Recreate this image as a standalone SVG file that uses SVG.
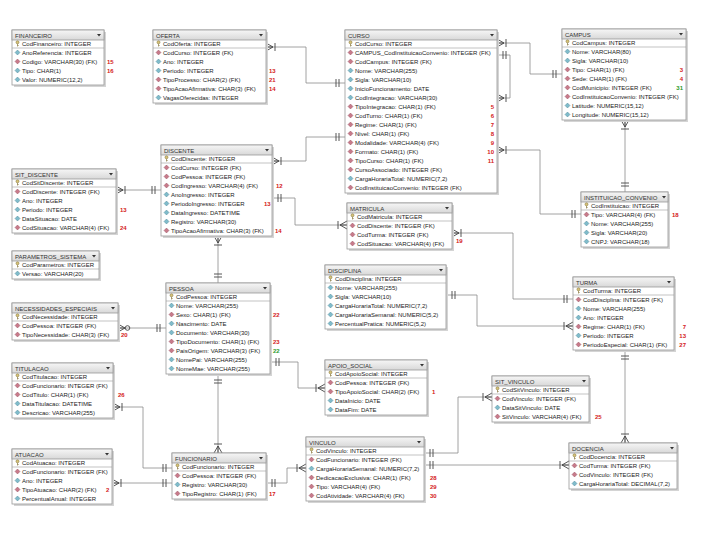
<svg xmlns="http://www.w3.org/2000/svg" width="720" height="540" viewBox="0 0 720 540">
<defs>
<style>
.sh{fill:#d4d4d4}
.t{fill:#fff;stroke:#9a9a9a;stroke-width:.8}
.h{fill:url(#hg);stroke:#9a9a9a;stroke-width:.8}
.ht{font-family:"Liberation Sans",Arial,sans-serif;font-size:6px;fill:#333}
.r{font-family:"Liberation Sans",Arial,sans-serif;font-size:6px;fill:#222}
.n{font-family:"Liberation Sans",Arial,sans-serif;font-size:6px;font-weight:bold;fill:#d42020}
.g{font-family:"Liberation Sans",Arial,sans-serif;font-size:6px;font-weight:bold;fill:#2a9a2a}
.e{text-anchor:end}
.sep{stroke:#9a9a9a;stroke-width:.6}
.dd{fill:#333}
#connectors path{fill:none;stroke:#8c8c8c;stroke-width:.8}
.mk{fill:none;stroke:#444;stroke-width:.9}
</style>
<linearGradient id="hg" x1="0" y1="0" x2="0" y2="1"><stop offset="0" stop-color="#f6f6f6"/><stop offset="1" stop-color="#d8d8d8"/></linearGradient>
<g id="pk"><circle cx="0" cy="-1.2" r="1.5" fill="#d8c47a" stroke="#8a7a40" stroke-width=".6"/><path d="M0,.3V3M0,2H1.2" stroke="#8a7a40" stroke-width=".7" fill="none"/></g>
<path id="fk" d="M0,-2.5L2.5,0 0,2.5-2.5,0Z" fill="#c87a8a" stroke="#8a4454" stroke-width=".4"/>
<path id="no" d="M0,-2.5L2.5,0 0,2.5-2.5,0Z" fill="#80bccb" stroke="#3c7a8a" stroke-width=".4"/>
<marker id="one" viewBox="-12 -6 14 12" refX="0" refY="0" markerWidth="14" markerHeight="12" markerUnits="userSpaceOnUse" orient="auto-start-reverse" overflow="visible"><path class="mk" d="M-6,-4V4M-9,-4V4"/></marker>
<marker id="many" viewBox="-12 -6 14 12" refX="0" refY="0" markerWidth="14" markerHeight="12" markerUnits="userSpaceOnUse" orient="auto-start-reverse" overflow="visible"><path class="mk" d="M0,-4L-7,0 0,4M0,0H-7M-9,-4V4"/></marker>
<marker id="zmany" viewBox="-14 -6 16 12" refX="0" refY="0" markerWidth="16" markerHeight="12" markerUnits="userSpaceOnUse" orient="auto-start-reverse" overflow="visible"><path class="mk" d="M0,-4L-7,0 0,4M0,0H-7"/><circle class="mk" cx="-9.5" cy="0" r="2.3" fill="#fff"/></marker>
</defs>
<rect width="720" height="540" fill="#fff"/>

<g id="connectors">
<path d="M266,47H306V83H345" marker-start="url(#many)" marker-end="url(#one)"/>
<path d="M272,161H306V137H345" marker-start="url(#many)" marker-end="url(#one)"/>
<path d="M272,198H295V225H347" marker-start="url(#one)" marker-end="url(#many)"/>
<path d="M116,190H161" marker-start="url(#many)" marker-end="url(#one)"/>
<path d="M218,236V283" marker-start="url(#many)" marker-end="url(#one)"/>
<path d="M497,43H530V74H562" marker-start="url(#many)" marker-end="url(#one)"/>
<path d="M497,55H510V98H497" marker-start="url(#one)" marker-end="url(#many)"/>
<path d="M497,150H540V214H581" marker-start="url(#many)" marker-end="url(#one)"/>
<path d="M625,120V192" marker-start="url(#many)" marker-end="url(#one)"/>
<path d="M452,233H513V299H573" marker-start="url(#many)" marker-end="url(#one)"/>
<path d="M446,295H477V326H573" marker-start="url(#one)" marker-end="url(#many)"/>
<path d="M625,350V443" marker-start="url(#one)" marker-end="url(#many)"/>
<path d="M118,328H166" marker-start="url(#zmany)" marker-end="url(#one)"/>
<path d="M270,362H298V388H325" marker-start="url(#one)" marker-end="url(#many)"/>
<path d="M218,374V453" marker-start="url(#one)" marker-end="url(#many)"/>
<path d="M113,407H143V468H172" marker-start="url(#many)" marker-end="url(#one)"/>
<path d="M112,483H172" marker-start="url(#many)" marker-end="url(#one)"/>
<path d="M266,483H287V468H306" marker-start="url(#one)" marker-end="url(#many)"/>
<path d="M424,453H458V397H492" marker-start="url(#one)" marker-end="url(#many)"/>
<path d="M424,465H569" marker-start="url(#one)" marker-end="url(#many)"/>
</g>

<g id="financeiro">
<rect class="sh" x="14" y="32" width="92" height="55"/><rect class="t" x="12" y="30" width="92" height="55"/><rect class="h" x="12" y="30" width="92" height="10"/>
<text class="ht" x="15" y="37.5">FINANCEIRO</text><path class="dd" d="M97,34h4l-2,2.5z"/><line class="sep" x1="12" y1="48" x2="104" y2="48"/>
<use href="#pk" x="17.5" y="43.5"/><text class="r" x="22" y="45.5">CodFinanceiro: INTEGER</text>
<use href="#no" x="17.5" y="52.5"/><text class="r" x="22" y="54.5">AnoReferencia: INTEGER</text>
<use href="#fk" x="17.5" y="61.5"/><text class="r" x="22" y="63.5">Codigo: VARCHAR(30) (FK)</text>
<use href="#no" x="17.5" y="70.5"/><text class="r" x="22" y="72.5">Tipo: CHAR(1)</text>
<use href="#no" x="17.5" y="79.5"/><text class="r" x="22" y="81.5">Valor: NUMERIC(12,2)</text>
<text class="n" x="107" y="63.5">15</text><text class="n" x="107" y="72.5">16</text>
</g>

<g id="oferta">
<rect class="sh" x="155" y="32" width="113" height="73"/><rect class="t" x="153" y="30" width="113" height="73"/><rect class="h" x="153" y="30" width="113" height="10"/>
<text class="ht" x="156" y="37.5">OFERTA</text><path class="dd" d="M259,34h4l-2,2.5z"/><line class="sep" x1="153" y1="48" x2="266" y2="48"/>
<use href="#pk" x="158.5" y="43.5"/><text class="r" x="163" y="45.5">CodOferta: INTEGER</text>
<use href="#fk" x="158.5" y="52.5"/><text class="r" x="163" y="54.5">CodCurso: INTEGER (FK)</text>
<use href="#no" x="158.5" y="61.5"/><text class="r" x="163" y="63.5">Ano: INTEGER</text>
<use href="#no" x="158.5" y="70.5"/><text class="r" x="163" y="72.5">Periodo: INTEGER</text>
<use href="#fk" x="158.5" y="79.5"/><text class="r" x="163" y="81.5">TipoProcesso: CHAR(2) (FK)</text>
<use href="#fk" x="158.5" y="88.5"/><text class="r" x="163" y="90.5">TipoAcaoAfirmativa: CHAR(3) (FK)</text>
<use href="#no" x="158.5" y="97.5"/><text class="r" x="163" y="99.5">VagasOferecidas: INTEGER</text>
<text class="n" x="269" y="72.5">13</text><text class="n" x="269" y="81.5">21</text><text class="n" x="269" y="90.5">14</text>
</g>

<g id="curso">
<rect class="sh" x="347" y="32" width="152" height="163"/><rect class="t" x="345" y="30" width="152" height="163"/><rect class="h" x="345" y="30" width="152" height="10"/>
<text class="ht" x="348" y="37.5">CURSO</text><path class="dd" d="M490,34h4l-2,2.5z"/><line class="sep" x1="345" y1="48" x2="497" y2="48"/>
<use href="#pk" x="350.5" y="43.5"/><text class="r" x="355" y="45.5">CodCurso: INTEGER</text>
<use href="#fk" x="350.5" y="52.5"/><text class="r" x="355" y="54.5">CAMPUS_CodInstituicaoConvenio: INTEGER (FK)</text>
<use href="#fk" x="350.5" y="61.5"/><text class="r" x="355" y="63.5">CodCampus: INTEGER (FK)</text>
<use href="#no" x="350.5" y="70.5"/><text class="r" x="355" y="72.5">Nome: VARCHAR(255)</text>
<use href="#no" x="350.5" y="79.5"/><text class="r" x="355" y="81.5">Sigla: VARCHAR(10)</text>
<use href="#no" x="350.5" y="88.5"/><text class="r" x="355" y="90.5">InicioFuncionamento: DATE</text>
<use href="#no" x="350.5" y="97.5"/><text class="r" x="355" y="99.5">CodIntegracao: VARCHAR(30)</text>
<use href="#fk" x="350.5" y="106.5"/><text class="r" x="355" y="108.5">TipoIntegracao: CHAR(1) (FK)</text>
<use href="#fk" x="350.5" y="115.5"/><text class="r" x="355" y="117.5">CodTurno: CHAR(1) (FK)</text>
<use href="#fk" x="350.5" y="124.5"/><text class="r" x="355" y="126.5">Regime: CHAR(1) (FK)</text>
<use href="#fk" x="350.5" y="133.5"/><text class="r" x="355" y="135.5">Nivel: CHAR(1) (FK)</text>
<use href="#fk" x="350.5" y="142.5"/><text class="r" x="355" y="144.5">Modalidade: VARCHAR(4) (FK)</text>
<use href="#fk" x="350.5" y="151.5"/><text class="r" x="355" y="153.5">Formato: CHAR(1) (FK)</text>
<use href="#fk" x="350.5" y="160.5"/><text class="r" x="355" y="162.5">TipoCurso: CHAR(1) (FK)</text>
<use href="#fk" x="350.5" y="169.5"/><text class="r" x="355" y="171.5">CursoAssociado: INTEGER (FK)</text>
<use href="#no" x="350.5" y="178.5"/><text class="r" x="355" y="180.5">CargaHorariaTotal: NUMERIC(7,2)</text>
<use href="#fk" x="350.5" y="187.5"/><text class="r" x="355" y="189.5">CodInstituicaoConvenio: INTEGER (FK)</text>
<text class="n e" x="494" y="108.5">5</text><text class="n e" x="494" y="117.5">6</text><text class="n e" x="494" y="126.5">7</text><text class="n e" x="494" y="135.5">8</text><text class="n e" x="494" y="144.5">9</text><text class="n e" x="494" y="153.5">10</text><text class="n e" x="494" y="162.5">11</text>
</g>

<g id="campus">
<rect class="sh" x="564" y="31" width="124" height="91"/><rect class="t" x="562" y="29" width="124" height="91"/><rect class="h" x="562" y="29" width="124" height="10"/>
<text class="ht" x="565" y="36.5">CAMPUS</text><path class="dd" d="M679,33h4l-2,2.5z"/><line class="sep" x1="562" y1="47" x2="686" y2="47"/>
<use href="#pk" x="567.5" y="42.5"/><text class="r" x="572" y="44.5">CodCampus: INTEGER</text>
<use href="#no" x="567.5" y="51.5"/><text class="r" x="572" y="53.5">Nome: VARCHAR(80)</text>
<use href="#no" x="567.5" y="60.5"/><text class="r" x="572" y="62.5">Sigla: VARCHAR(10)</text>
<use href="#fk" x="567.5" y="69.5"/><text class="r" x="572" y="71.5">Tipo: CHAR(1) (FK)</text>
<use href="#fk" x="567.5" y="78.5"/><text class="r" x="572" y="80.5">Sede: CHAR(1) (FK)</text>
<use href="#fk" x="567.5" y="87.5"/><text class="r" x="572" y="89.5">CodMunicipio: INTEGER (FK)</text>
<use href="#fk" x="567.5" y="96.5"/><text class="r" x="572" y="98.5">CodInstituicaoConvenio: INTEGER (FK)</text>
<use href="#no" x="567.5" y="105.5"/><text class="r" x="572" y="107.5">Latitude: NUMERIC(15,12)</text>
<use href="#no" x="567.5" y="114.5"/><text class="r" x="572" y="116.5">Longitude: NUMERIC(15,12)</text>
<text class="n e" x="683" y="71.5">3</text><text class="n e" x="683" y="80.5">4</text><text class="g e" x="683" y="89.5">31</text>
</g>

<g id="sit_discente">
<rect class="sh" x="14" y="171" width="104" height="64"/><rect class="t" x="12" y="169" width="104" height="64"/><rect class="h" x="12" y="169" width="104" height="10"/>
<text class="ht" x="15" y="176.5">SIT_DISCENTE</text><path class="dd" d="M109,173h4l-2,2.5z"/><line class="sep" x1="12" y1="187" x2="116" y2="187"/>
<use href="#pk" x="17.5" y="182.5"/><text class="r" x="22" y="184.5">CodSitDiscente: INTEGER</text>
<use href="#fk" x="17.5" y="191.5"/><text class="r" x="22" y="193.5">CodDiscente: INTEGER (FK)</text>
<use href="#no" x="17.5" y="200.5"/><text class="r" x="22" y="202.5">Ano: INTEGER</text>
<use href="#no" x="17.5" y="209.5"/><text class="r" x="22" y="211.5">Periodo: INTEGER</text>
<use href="#no" x="17.5" y="218.5"/><text class="r" x="22" y="220.5">DataSituacao: DATE</text>
<use href="#fk" x="17.5" y="227.5"/><text class="r" x="22" y="229.5">CodSituacao: VARCHAR(4) (FK)</text>
<text class="n" x="120" y="211.5">13</text><text class="n" x="120" y="229.5">24</text>
</g>

<g id="parametros_sistema">
<rect class="sh" x="14" y="253" width="87" height="28"/><rect class="t" x="12" y="251" width="87" height="28"/><rect class="h" x="12" y="251" width="87" height="10"/>
<text class="ht" x="15" y="258.5">PARAMETROS_SISTEMA</text><path class="dd" d="M92,255h4l-2,2.5z"/><line class="sep" x1="12" y1="269" x2="99" y2="269"/>
<use href="#pk" x="17.5" y="264.5"/><text class="r" x="22" y="266.5">CodParametros: INTEGER</text>
<use href="#no" x="17.5" y="273.5"/><text class="r" x="22" y="275.5">Versao: VARCHAR(20)</text>
</g>

<g id="discente">
<rect class="sh" x="163" y="147" width="111" height="91"/><rect class="t" x="161" y="145" width="111" height="91"/><rect class="h" x="161" y="145" width="111" height="10"/>
<text class="ht" x="164" y="152.5">DISCENTE</text><path class="dd" d="M265,149h4l-2,2.5z"/><line class="sep" x1="161" y1="163" x2="272" y2="163"/>
<use href="#pk" x="166.5" y="158.5"/><text class="r" x="171" y="160.5">CodDiscente: INTEGER</text>
<use href="#fk" x="166.5" y="167.5"/><text class="r" x="171" y="169.5">CodCurso: INTEGER (FK)</text>
<use href="#fk" x="166.5" y="176.5"/><text class="r" x="171" y="178.5">CodPessoa: INTEGER (FK)</text>
<use href="#fk" x="166.5" y="185.5"/><text class="r" x="171" y="187.5">CodIngresso: VARCHAR(4) (FK)</text>
<use href="#no" x="166.5" y="194.5"/><text class="r" x="171" y="196.5">AnoIngresso: INTEGER</text>
<use href="#no" x="166.5" y="203.5"/><text class="r" x="171" y="205.5">PeriodoIngresso: INTEGER</text>
<use href="#no" x="166.5" y="212.5"/><text class="r" x="171" y="214.5">DataIngresso: DATETIME</text>
<use href="#no" x="166.5" y="221.5"/><text class="r" x="171" y="223.5">Registro: VARCHAR(30)</text>
<use href="#fk" x="166.5" y="230.5"/><text class="r" x="171" y="232.5">TipoAcaoAfirmativa: CHAR(3) (FK)</text>
<text class="n" x="276" y="187.5">12</text><text class="n" x="264" y="205.5">13</text><text class="n" x="275" y="232.5">14</text>
</g>

<g id="matricula">
<rect class="sh" x="349" y="205" width="105" height="46"/><rect class="t" x="347" y="203" width="105" height="46"/><rect class="h" x="347" y="203" width="105" height="10"/>
<text class="ht" x="350" y="210.5">MATRICULA</text><path class="dd" d="M445,207h4l-2,2.5z"/><line class="sep" x1="347" y1="221" x2="452" y2="221"/>
<use href="#pk" x="352.5" y="216.5"/><text class="r" x="357" y="218.5">CodMatricula: INTEGER</text>
<use href="#fk" x="352.5" y="225.5"/><text class="r" x="357" y="227.5">CodDiscente: INTEGER (FK)</text>
<use href="#fk" x="352.5" y="234.5"/><text class="r" x="357" y="236.5">CodTurma: INTEGER (FK)</text>
<use href="#fk" x="352.5" y="243.5"/><text class="r" x="357" y="245.5">CodSituacao: VARCHAR(4) (FK)</text>
<text class="n" x="456" y="243">19</text>
</g>

<g id="disciplina">
<rect class="sh" x="327" y="267" width="121" height="64"/><rect class="t" x="325" y="265" width="121" height="64"/><rect class="h" x="325" y="265" width="121" height="10"/>
<text class="ht" x="328" y="272.5">DISCIPLINA</text><path class="dd" d="M439,269h4l-2,2.5z"/><line class="sep" x1="325" y1="283" x2="446" y2="283"/>
<use href="#pk" x="330.5" y="278.5"/><text class="r" x="335" y="280.5">CodDisciplina: INTEGER</text>
<use href="#no" x="330.5" y="287.5"/><text class="r" x="335" y="289.5">Nome: VARCHAR(255)</text>
<use href="#no" x="330.5" y="296.5"/><text class="r" x="335" y="298.5">Sigla: VARCHAR(10)</text>
<use href="#no" x="330.5" y="305.5"/><text class="r" x="335" y="307.5">CargaHorariaTotal: NUMERIC(7,2)</text>
<use href="#no" x="330.5" y="314.5"/><text class="r" x="335" y="316.5">CargaHorariaSemanal: NUMERIC(5,2)</text>
<use href="#no" x="330.5" y="323.5"/><text class="r" x="335" y="325.5">PercentualPratica: NUMERIC(5,2)</text>
</g>

<g id="instituicao_convenio">
<rect class="sh" x="583" y="194" width="87" height="55"/><rect class="t" x="581" y="192" width="87" height="55"/><rect class="h" x="581" y="192" width="87" height="10"/>
<text class="ht" x="584" y="199.5">INSTITUICAO_CONVENIO</text><path class="dd" d="M662,196h4l-2,2.5z"/><line class="sep" x1="581" y1="210" x2="668" y2="210"/>
<use href="#pk" x="586.5" y="205.5"/><text class="r" x="591" y="207.5">CodInstituicao: INTEGER</text>
<use href="#fk" x="586.5" y="214.5"/><text class="r" x="591" y="216.5">Tipo: VARCHAR(4) (FK)</text>
<use href="#no" x="586.5" y="223.5"/><text class="r" x="591" y="225.5">Nome: VARCHAR(255)</text>
<use href="#no" x="586.5" y="232.5"/><text class="r" x="591" y="234.5">Sigla: VARCHAR(20)</text>
<use href="#no" x="586.5" y="241.5"/><text class="r" x="591" y="243.5">CNPJ: VARCHAR(18)</text>
<text class="n" x="672" y="216.5">18</text>
</g>

<g id="turma">
<rect class="sh" x="575" y="279" width="101" height="73"/><rect class="t" x="573" y="277" width="101" height="73"/><rect class="h" x="573" y="277" width="101" height="10"/>
<text class="ht" x="576" y="284.5">TURMA</text><path class="dd" d="M667,281h4l-2,2.5z"/><line class="sep" x1="573" y1="295" x2="674" y2="295"/>
<use href="#pk" x="578.5" y="290.5"/><text class="r" x="583" y="292.5">CodTurma: INTEGER</text>
<use href="#fk" x="578.5" y="299.5"/><text class="r" x="583" y="301.5">CodDisciplina: INTEGER (FK)</text>
<use href="#no" x="578.5" y="308.5"/><text class="r" x="583" y="310.5">Nome: VARCHAR(255)</text>
<use href="#no" x="578.5" y="317.5"/><text class="r" x="583" y="319.5">Ano: INTEGER</text>
<use href="#fk" x="578.5" y="326.5"/><text class="r" x="583" y="328.5">Regime: CHAR(1) (FK)</text>
<use href="#no" x="578.5" y="335.5"/><text class="r" x="583" y="337.5">Periodo: INTEGER</text>
<use href="#fk" x="578.5" y="344.5"/><text class="r" x="583" y="346.5">PeriodoEspecial: CHAR(1) (FK)</text>
<text class="n e" x="686" y="328.5">7</text><text class="n e" x="686" y="337.5">13</text><text class="n e" x="686" y="346.5">27</text>
</g>

<g id="necessidades_especiais">
<rect class="sh" x="14" y="305" width="106" height="37"/><rect class="t" x="12" y="303" width="106" height="37"/><rect class="h" x="12" y="303" width="106" height="10"/>
<text class="ht" x="15" y="310.5">NECESSIDADES_ESPECIAIS</text><path class="dd" d="M111,307h4l-2,2.5z"/><line class="sep" x1="12" y1="321" x2="118" y2="321"/>
<use href="#pk" x="17.5" y="316.5"/><text class="r" x="22" y="318.5">CodNecessidade: INTEGER</text>
<use href="#fk" x="17.5" y="325.5"/><text class="r" x="22" y="327.5">CodPessoa: INTEGER (FK)</text>
<use href="#fk" x="17.5" y="334.5"/><text class="r" x="22" y="336.5">TipoNecessidade: CHAR(3) (FK)</text>
<text class="n" x="121" y="336.5">20</text>
</g>

<g id="pessoa">
<rect class="sh" x="168" y="285" width="104" height="91"/><rect class="t" x="166" y="283" width="104" height="91"/><rect class="h" x="166" y="283" width="104" height="10"/>
<text class="ht" x="169" y="290.5">PESSOA</text><path class="dd" d="M263,287h4l-2,2.5z"/><line class="sep" x1="166" y1="301" x2="270" y2="301"/>
<use href="#pk" x="171.5" y="296.5"/><text class="r" x="176" y="298.5">CodPessoa: INTEGER</text>
<use href="#no" x="171.5" y="305.5"/><text class="r" x="176" y="307.5">Nome: VARCHAR(255)</text>
<use href="#fk" x="171.5" y="314.5"/><text class="r" x="176" y="316.5">Sexo: CHAR(1) (FK)</text>
<use href="#no" x="171.5" y="323.5"/><text class="r" x="176" y="325.5">Nascimento: DATE</text>
<use href="#no" x="171.5" y="332.5"/><text class="r" x="176" y="334.5">Documento: VARCHAR(30)</text>
<use href="#fk" x="171.5" y="341.5"/><text class="r" x="176" y="343.5">TipoDocumento: CHAR(1) (FK)</text>
<use href="#fk" x="171.5" y="350.5"/><text class="r" x="176" y="352.5">PaisOrigem: VARCHAR(3) (FK)</text>
<use href="#no" x="171.5" y="359.5"/><text class="r" x="176" y="361.5">NomePai: VARCHAR(255)</text>
<use href="#no" x="171.5" y="368.5"/><text class="r" x="176" y="370.5">NomeMae: VARCHAR(255)</text>
<text class="n" x="273" y="316.5">22</text><text class="n" x="273" y="343.5">23</text><text class="g" x="273" y="352.5">22</text>
</g>

<g id="titulacao">
<rect class="sh" x="14" y="365" width="101" height="55"/><rect class="t" x="12" y="363" width="101" height="55"/><rect class="h" x="12" y="363" width="101" height="10"/>
<text class="ht" x="15" y="370.5">TITULACAO</text><path class="dd" d="M106,367h4l-2,2.5z"/><line class="sep" x1="12" y1="381" x2="113" y2="381"/>
<use href="#pk" x="17.5" y="376.5"/><text class="r" x="22" y="378.5">CodTitulacao: INTEGER</text>
<use href="#fk" x="17.5" y="385.5"/><text class="r" x="22" y="387.5">CodFuncionario: INTEGER (FK)</text>
<use href="#fk" x="17.5" y="394.5"/><text class="r" x="22" y="396.5">CodTitulo: CHAR(1) (FK)</text>
<use href="#no" x="17.5" y="403.5"/><text class="r" x="22" y="405.5">DataTitulacao: DATETIME</text>
<use href="#no" x="17.5" y="412.5"/><text class="r" x="22" y="414.5">Descricao: VARCHAR(255)</text>
<text class="n" x="118" y="396.5">26</text>
</g>

<g id="apoio_social">
<rect class="sh" x="327" y="362" width="102" height="55"/><rect class="t" x="325" y="360" width="102" height="55"/><rect class="h" x="325" y="360" width="102" height="10"/>
<text class="ht" x="328" y="367.5">APOIO_SOCIAL</text><path class="dd" d="M420,364h4l-2,2.5z"/><line class="sep" x1="325" y1="378" x2="427" y2="378"/>
<use href="#pk" x="330.5" y="373.5"/><text class="r" x="335" y="375.5">CodApoioSocial: INTEGER</text>
<use href="#fk" x="330.5" y="382.5"/><text class="r" x="335" y="384.5">CodPessoa: INTEGER (FK)</text>
<use href="#fk" x="330.5" y="391.5"/><text class="r" x="335" y="393.5">TipoApoioSocial: CHAR(2) (FK)</text>
<use href="#no" x="330.5" y="400.5"/><text class="r" x="335" y="402.5">DataInicio: DATE</text>
<use href="#no" x="330.5" y="409.5"/><text class="r" x="335" y="411.5">DataFim: DATE</text>
<text class="n" x="432" y="393.5">1</text>
</g>

<g id="sit_vinculo">
<rect class="sh" x="494" y="378" width="97" height="46"/><rect class="t" x="492" y="376" width="97" height="46"/><rect class="h" x="492" y="376" width="97" height="10"/>
<text class="ht" x="495" y="383.5">SIT_VINCULO</text><path class="dd" d="M582,380h4l-2,2.5z"/><line class="sep" x1="492" y1="394" x2="589" y2="394"/>
<use href="#pk" x="497.5" y="389.5"/><text class="r" x="502" y="391.5">CodSitVinculo: INTEGER</text>
<use href="#fk" x="497.5" y="398.5"/><text class="r" x="502" y="400.5">CodVinculo: INTEGER (FK)</text>
<use href="#no" x="497.5" y="407.5"/><text class="r" x="502" y="409.5">DataSitVinculo: DATE</text>
<use href="#fk" x="497.5" y="416.5"/><text class="r" x="502" y="418.5">SitVinculo: VARCHAR(4) (FK)</text>
<text class="n" x="595" y="418.5">25</text>
</g>

<g id="atuacao">
<rect class="sh" x="14" y="451" width="100" height="55"/><rect class="t" x="12" y="449" width="100" height="55"/><rect class="h" x="12" y="449" width="100" height="10"/>
<text class="ht" x="15" y="456.5">ATUACAO</text><path class="dd" d="M105,453h4l-2,2.5z"/><line class="sep" x1="12" y1="467" x2="112" y2="467"/>
<use href="#pk" x="17.5" y="462.5"/><text class="r" x="22" y="464.5">CodAtuacao: INTEGER</text>
<use href="#fk" x="17.5" y="471.5"/><text class="r" x="22" y="473.5">CodFuncionario: INTEGER (FK)</text>
<use href="#no" x="17.5" y="480.5"/><text class="r" x="22" y="482.5">Ano: INTEGER</text>
<use href="#fk" x="17.5" y="489.5"/><text class="r" x="22" y="491.5">TipoAtuacao: CHAR(2) (FK)</text>
<use href="#no" x="17.5" y="498.5"/><text class="r" x="22" y="500.5">PercentualAnual: INTEGER</text>
<text class="n" x="106" y="491.5">2</text>
</g>

<g id="funcionario">
<rect class="sh" x="174" y="455" width="94" height="46"/><rect class="t" x="172" y="453" width="94" height="46"/><rect class="h" x="172" y="453" width="94" height="10"/>
<text class="ht" x="175" y="460.5">FUNCIONARIO</text><path class="dd" d="M259,457h4l-2,2.5z"/><line class="sep" x1="172" y1="471" x2="266" y2="471"/>
<use href="#pk" x="177.5" y="466.5"/><text class="r" x="182" y="468.5">CodFuncionario: INTEGER</text>
<use href="#fk" x="177.5" y="475.5"/><text class="r" x="182" y="477.5">CodPessoa: INTEGER (FK)</text>
<use href="#no" x="177.5" y="484.5"/><text class="r" x="182" y="486.5">Registro: VARCHAR(30)</text>
<use href="#fk" x="177.5" y="493.5"/><text class="r" x="182" y="495.5">TipoRegistro: CHAR(1) (FK)</text>
<text class="n" x="269" y="495.5">17</text>
</g>

<g id="vinculo">
<rect class="sh" x="308" y="439" width="118" height="64"/><rect class="t" x="306" y="437" width="118" height="64"/><rect class="h" x="306" y="437" width="118" height="10"/>
<text class="ht" x="309" y="444.5">VINCULO</text><path class="dd" d="M417,441h4l-2,2.5z"/><line class="sep" x1="306" y1="455" x2="424" y2="455"/>
<use href="#pk" x="311.5" y="450.5"/><text class="r" x="316" y="452.5">CodVinculo: INTEGER</text>
<use href="#fk" x="311.5" y="459.5"/><text class="r" x="316" y="461.5">CodFuncionario: INTEGER (FK)</text>
<use href="#no" x="311.5" y="468.5"/><text class="r" x="316" y="470.5">CargaHorariaSemanal: NUMERIC(7,2)</text>
<use href="#fk" x="311.5" y="477.5"/><text class="r" x="316" y="479.5">DedicacaoExclusiva: CHAR(1) (FK)</text>
<use href="#fk" x="311.5" y="486.5"/><text class="r" x="316" y="488.5">Tipo: VARCHAR(4) (FK)</text>
<use href="#fk" x="311.5" y="495.5"/><text class="r" x="316" y="497.5">CodAtividade: VARCHAR(4) (FK)</text>
<text class="n" x="430" y="479.5">28</text><text class="n" x="430" y="488.5">29</text><text class="n" x="430" y="497.5">30</text>
</g>

<g id="docencia">
<rect class="sh" x="571" y="445" width="108" height="46"/><rect class="t" x="569" y="443" width="108" height="46"/><rect class="h" x="569" y="443" width="108" height="10"/>
<text class="ht" x="572" y="450.5">DOCENCIA</text><path class="dd" d="M670,447h4l-2,2.5z"/><line class="sep" x1="569" y1="461" x2="677" y2="461"/>
<use href="#pk" x="574.5" y="456.5"/><text class="r" x="579" y="458.5">CodDocencia: INTEGER</text>
<use href="#fk" x="574.5" y="465.5"/><text class="r" x="579" y="467.5">CodTurma: INTEGER (FK)</text>
<use href="#fk" x="574.5" y="474.5"/><text class="r" x="579" y="476.5">CodVinculo: INTEGER (FK)</text>
<use href="#no" x="574.5" y="483.5"/><text class="r" x="579" y="485.5">CargaHorariaTotal: DECIMAL(7,2)</text>
</g>
</svg>
